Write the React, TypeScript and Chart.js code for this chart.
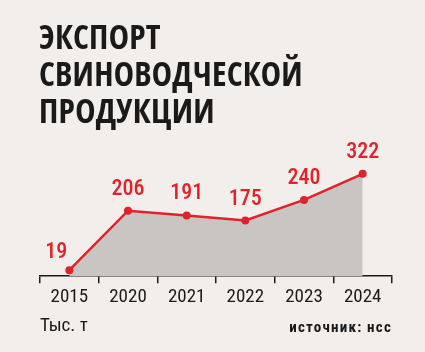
import React, { useEffect, useRef } from "react";
import { Chart, registerables } from "chart.js";

Chart.register(...registerables);

const years = ["2015", "2020", "2021", "2022", "2023", "2024"];
const exportValues = [19, 206, 191, 175, 240, 322];
const titleLines = ["ЭКСПОРТ", "СВИНОВОДЧЕСКОЙ", "ПРОДУКЦИИ"];
const unitLabel = "Тыс. т";
const sourceLabel = "источник: нсс";

const RED = "#e1222b";
const FILL = "#c9c5c2";
const BG = "#f1eeeb";
const INK = "#1b1a1a";
const FONT = "'Roboto Condensed', 'Open Sans Condensed', sans-serif";
const TITLE_FONT = "'Open Sans Condensed', 'Roboto Condensed', sans-serif";

const valueLabels = {
  id: "valueLabels",
  afterDatasetsDraw(chart: any) {
    const ctx = chart.ctx;
    const meta = chart.getDatasetMeta(0);
    ctx.save();
    ctx.fillStyle = RED;
    ctx.font = `500 22px ${FONT}`;
    ctx.textAlign = "center";
    ctx.textBaseline = "alphabetic";
    meta.data.forEach((pt: any, i: number) => {
      const v = chart.data.datasets[0].data[i];
      let x = pt.x;
      let y = pt.y - 16;
      if (i === 0) {
        x = pt.x - 13;
        y = pt.y - 12;
      }
      ctx.fillText(String(v), x, y);
    });
    ctx.restore();
  },
};

export default function App() {
  const ref = useRef<HTMLCanvasElement | null>(null);

  useEffect(() => {
    if (!ref.current) return;
    const chart = new Chart(ref.current, {
      type: "line",
      data: {
        labels: years,
        datasets: [
          {
            data: exportValues,
            borderColor: RED,
            borderWidth: 2.5,
            backgroundColor: FILL,
            fill: "origin",
            pointRadius: 4,
            pointBackgroundColor: RED,
            pointBorderWidth: 0,
            tension: 0,
          },
        ],
      },
      options: {
        animation: false,
        responsive: false,
        maintainAspectRatio: false,
        layout: { padding: { left: 40, right: 33, top: 149, bottom: 40 } },
        plugins: { legend: { display: false }, tooltip: { enabled: false } },
        scales: {
          x: {
            offset: true,
            grid: {
              offset: true,
              drawOnChartArea: false,
              drawTicks: true,
              tickLength: 7,
              color: INK,
              lineWidth: 1.5,
            },
            border: { display: true, color: INK, width: 1.5 },
            ticks: {
              color: INK,
              padding: 3,
              font: { family: FONT, size: 19 },
              maxRotation: 0,
            },
          },
          y: { display: false, min: 0, max: 400 },
        },
      },
      plugins: [valueLabels],
    });
    return () => chart.destroy();
  }, []);

  return (
    <div
      style={{
        position: "absolute",
        left: 0,
        top: 0,
        width: 425,
        height: 352,
        background: BG,
        overflow: "hidden",
        fontFamily: FONT,
      }}
    >
      <canvas ref={ref} width={425} height={352} style={{ position: "absolute", left: 0, top: 0 }} />
      <div
        style={{
          position: "absolute",
          left: 39,
          top: 18,
          color: INK,
          fontFamily: TITLE_FONT,
          fontWeight: "bold",
          fontSize: 34,
          lineHeight: "37px",
          letterSpacing: 0.3,
        }}
      >
        {titleLines.map((l) => (
          <div key={l}>{l}</div>
        ))}
      </div>
      <div
        style={{
          position: "absolute",
          left: 40,
          top: 314,
          color: INK,
          fontSize: 19,
          lineHeight: "22px",
        }}
      >
        {unitLabel}
      </div>
      <div
        style={{
          position: "absolute",
          right: 33,
          top: 318,
          color: INK,
          fontSize: 15,
          fontWeight: "bold",
          letterSpacing: 1.2,
          lineHeight: "18px",
        }}
      >
        {sourceLabel}
      </div>
    </div>
  );
}
